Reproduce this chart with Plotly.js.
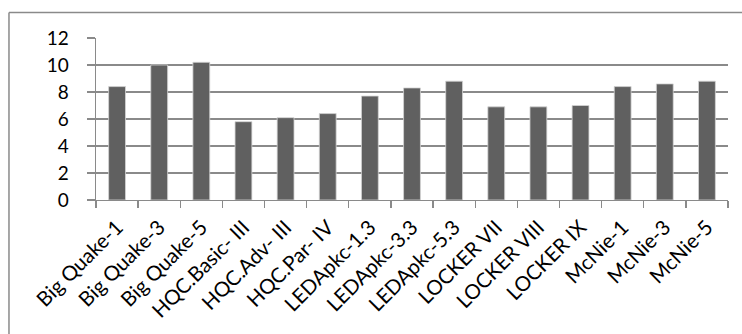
<!DOCTYPE html>
<html>
<head>
<meta charset="utf-8">
<script src="https://cdn.plot.ly/plotly-3.0.1.min.js"></script>
<style>html,body{margin:0;padding:0;background:#fff;}#chart{width:742px;height:334px;}</style>
</head>
<body>
<div id="chart"></div>
<script>
const categories = ["Big Quake-1","Big Quake-3","Big Quake-5","HQC.Basic- III","HQC.Adv- III","HQC.Par- IV","LEDApkc-1.3","LEDApkc-3.3","LEDApkc-5.3","LOCKER VII","LOCKER VIII","LOCKER IX","McNie-1","McNie-3","McNie-5"];
const values = [8.4, 10.0, 10.2, 5.8, 6.1, 6.4, 7.7, 8.3, 8.8, 6.9, 6.9, 7.0, 8.4, 8.6, 8.8];
const yTicks = [0, 2, 4, 6, 8, 10, 12];

const trace = {
  type: "bar",
  x: categories,
  y: values,
  marker: {color: "#606060", line: {color: "#d4d4d4", width: 0.8}},
  hoverinfo: "x+y"
};

const layout = {
  width: 742, height: 334,
  margin: {l: 96, r: 14, t: 37.5, b: 134, pad: 0},
  paper_bgcolor: "#ffffff",
  plot_bgcolor: "#ffffff",
  showlegend: false,
  bargap: 0.6,
  font: {family: "Lato, 'Liberation Sans', sans-serif", color: "#000000"},
  xaxis: {
    type: "category",
    tickangle: -45,
    tickson: "boundaries",
    ticks: "outside",
    ticklen: 7,
    tickcolor: "#8a8a8a",
    tickwidth: 1.3,
    ticklabelstandoff: 6,
    showline: true,
    linecolor: "#8a8a8a",
    linewidth: 1.3,
    showgrid: false,
    tickfont: {size: 20.5, family: "Lato, 'Liberation Sans', sans-serif", color: "#000"},
    fixedrange: true
  },
  yaxis: {
    range: [0, 12],
    tickvals: yTicks,
    ticktext: yTicks.map(String),
    ticks: "outside",
    ticklen: 8,
    tickcolor: "#8a8a8a",
    tickwidth: 1.3,
    ticklabelstandoff: 14,
    showline: true,
    linecolor: "#8a8a8a",
    linewidth: 1.3,
    showgrid: true,
    gridcolor: "#8a8a8a",
    gridwidth: 1.3,
    zeroline: false,
    tickfont: {size: 19, family: "Lato, 'Liberation Sans', sans-serif", color: "#000"},
    fixedrange: true
  },
  shapes: [
    {type: "line", xref: "paper", yref: "paper", x0: -0.1377, x1: 1.1, y0: 1.157, y1: 1.157, line: {color: "#8a8a8a", width: 1.5}},
    {type: "line", xref: "paper", yref: "paper", x0: -0.1377, x1: -0.1377, y0: 1.157, y1: -1.1, line: {color: "#8a8a8a", width: 1.5}}
  ]
};

Plotly.newPlot("chart", [trace], layout, {displayModeBar: false, staticPlot: true});
</script>
</body>
</html>
